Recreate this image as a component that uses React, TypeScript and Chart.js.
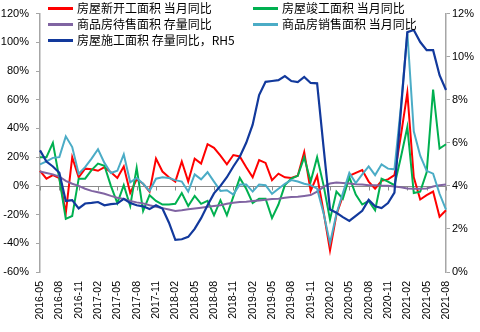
import React, { useEffect, useRef } from "react";
import { Chart, registerables } from "chart.js";

Chart.register(...registerables);

const months: string[] = [
  "2016-05", "2016-06", "2016-07", "2016-08", "2016-09", "2016-10", "2016-11", "2016-12",
  "2017-01", "2017-02", "2017-03", "2017-04", "2017-05", "2017-06", "2017-07", "2017-08", "2017-09", "2017-10", "2017-11", "2017-12",
  "2018-01", "2018-02", "2018-03", "2018-04", "2018-05", "2018-06", "2018-07", "2018-08", "2018-09", "2018-10", "2018-11", "2018-12",
  "2019-01", "2019-02", "2019-03", "2019-04", "2019-05", "2019-06", "2019-07", "2019-08", "2019-09", "2019-10", "2019-11", "2019-12",
  "2020-01", "2020-02", "2020-03", "2020-04", "2020-05", "2020-06", "2020-07", "2020-08", "2020-09", "2020-10", "2020-11", "2020-12",
  "2021-01", "2021-02", "2021-03", "2021-04", "2021-05", "2021-06", "2021-07", "2021-08",
];

// 房屋新开工面积 当月同比 (%)
const newStartsYoY: number[] = [
  10.5, 5, 7.5, 5.5, -19, 20, 6, 12, 11.5, 10.5,
  13, 9.5, 5.5, 13.5, -5, 4.5, 1.5, -4, 19, 10,
  6, 3, 17, 3, 19, 15.5, 29, 26.5, 21, 15,
  21.5, 20.5, 13, 6, 18, 16, 4, 8.5, 6, 5.5,
  7, 23.5, -3.5, 7, -18, -45, -20, -7, 7, 9,
  11, 3, -2, 3.5, 4.5, 7.5, 35, 65, 6, -9.5,
  -6.5, -4, -21.5, -17,
];

// 房屋竣工面积 当月同比 (%)
const completionsYoY: number[] = [
  20, 20, 30, 5, -23, -21, 5, 5, 11, 15.5,
  14, 0, -12, 0.5, -14, 12.5, -17.5, -6.5, -10.5, -13,
  -13, -12.5, -5, -14, -7, -12.5, -10.5, -20.5, -10, -20.5,
  -7.5, 5.5, -2, -12, -9, -9, -22.5, -13, 0.5, 5,
  7, 20, 3, 20, 0.5, -23.5, -4, -9, 6, -6,
  -13, -10.5, -17, 5, 3, 0.5, 20, 41, -5, -4,
  9.5, 67, 26, 29,
];

// 商品房待售面积 存量同比 (%)
const inventoryYoY: number[] = [
  10, 9, 8, 6.5, 3.5, 1.5, 0, -2, -3.5, -4.5,
  -5.5, -7, -8.3, -9.2, -10.5, -11.5, -12.2, -13.5, -14.5, -15.5,
  -16.5, -17.5, -17, -16.3, -15.8, -15.2, -14.5, -14, -13.5, -12.5,
  -11.8, -11.3, -11, -10.6, -10.2, -9.7, -9.2, -8.9, -8.3, -7.8,
  -7.5, -7, -6.4, -4, -0.7, 1.6, 2.3, 2, 1.6, 1.2,
  1, 0.5, 0.5, 0.2, 0, -0.5, -1, -1.8, -2, -2,
  -1.8, -0.5, 0.5, 1,
];

// 商品房销售面积 当月同比 (%)
const salesYoY: number[] = [
  15, 17, 19.5, 20, 34.5, 27, 8.5, 13, 19, 25.5,
  16, 9, 10.5, 22, 2.5, 5.5, 1.5, -3.5, 5, 6,
  5.5, 4, 3, -4, 8, 4.5, 9.5, 3, -3.5, -3,
  -6, 1, 1, -4, 1, 0.5, -5.5, -2, 1.5, 4,
  3, 1.5, 0.5, -2, -19, -40, -19.5, -5, 9, 2,
  8, 13.5, 7.5, 15, 12, 11.5, 55, 107, 38, 21,
  10.5, 8.5, -5.5, -16.5,
];

// 房屋施工面积 存量同比 (%, right axis)
const underConstructionYoY: number[] = [
  5.65, 5.13, 4.9, 4.61, 3.3, 3.34, 2.95, 3.18, 3.21, 3.25,
  3.1, 3.15, 3.18, 3.4, 3.2, 3.1, 3.05, 2.92, 3.1, 2.95,
  2.3, 1.49, 1.52, 1.63, 2.0, 2.5, 3.1, 3.65, 4.0, 4.4,
  4.9, 5.35, 6.0, 6.84, 8.22, 8.83, 8.87, 8.91, 9.1, 8.87,
  8.82, 9.06, 8.78, 8.76, 5.8, 2.9, 2.75, 2.55, 2.37, 2.61,
  2.84, 3.35, 3.05, 2.97, 3.2, 3.69, 7.5, 11.14, 11.24, 10.68,
  10.3, 10.3, 9.14, 8.45,
];

const leftTicks: number[] = [-60, -40, -20, 0, 20, 40, 60, 80, 100, 120];
const rightTicks: number[] = [0, 2, 4, 6, 8, 10, 12];

const seriesNames: string[] = [
  "房屋新开工面积 当月同比",
  "房屋竣工面积 当月同比",
  "商品房待售面积 存量同比",
  "商品房销售面积 当月同比",
  "房屋施工面积 存量同比，RH5",
];

const COLORS = ["#FF0000", "#00B050", "#8064A2", "#4BACC6", "#12399C"];
const AXIS_GRAY = "#A6A6A6";
const TICK_FONT = "'Liberation Sans', Arial, sans-serif";
const LABEL_EVERY = 3;

const zeroLinePlugin = {
  id: "zeroLine",
  beforeDatasetsDraw(chart: any) {
    const { ctx, chartArea, scales } = chart;
    const y = Math.round(scales.y.getPixelForValue(0)) + 0.5;
    ctx.save();
    ctx.strokeStyle = "#8C8C8C";
    ctx.lineWidth = 1;
    ctx.beginPath();
    ctx.moveTo(chartArea.left, y);
    ctx.lineTo(chartArea.right, y);
    for (let i = 0; i < months.length; i += LABEL_EVERY) {
      const x = Math.round(scales.x.getPixelForValue(i)) + 0.5;
      ctx.moveTo(x, y);
      ctx.lineTo(x, y + 4);
    }
    ctx.stroke();
    ctx.restore();
  },
};

export default function App() {
  const canvasRef = useRef<HTMLCanvasElement | null>(null);

  useEffect(() => {
    const canvas = canvasRef.current;
    if (!canvas) return;
    const series = [newStartsYoY, completionsYoY, inventoryYoY, salesYoY];
    const datasets: any[] = series.map((d, i) => ({
      label: seriesNames[i],
      data: d,
      borderColor: COLORS[i],
      backgroundColor: COLORS[i],
      borderWidth: 2,
      pointRadius: 0,
      tension: 0,
      yAxisID: "y",
      order: 5 - i,
    }));
    datasets.push({
      label: seriesNames[4],
      data: underConstructionYoY,
      borderColor: COLORS[4],
      backgroundColor: COLORS[4],
      borderWidth: 2.2,
      pointRadius: 0,
      tension: 0,
      yAxisID: "y1",
      order: 0,
    });

    const chart = new Chart(canvas, {
      type: "line",
      data: { labels: months, datasets },
      plugins: [zeroLinePlugin],
      options: {
        responsive: false,
        animation: false,
        events: [],
        layout: { padding: { top: 11, left: 0, right: 0, bottom: 0 } },
        plugins: { legend: { display: false }, tooltip: { enabled: false } },
        scales: {
          x: {
            type: "category",
            offset: false,
            grid: { display: false, drawTicks: false },
            border: { display: false },
            ticks: {
              autoSkip: false,
              maxRotation: 90,
              minRotation: 90,
              padding: 9,
              color: "#000",
              font: { family: TICK_FONT, size: 10.5 },
              callback: (_v: any, idx: number) => (idx % LABEL_EVERY === 0 ? months[idx] : null),
            },
            afterFit: (s: any) => {
              s.height = 60;
            },
          },
          y: {
            position: "left",
            min: leftTicks[0],
            max: leftTicks[leftTicks.length - 1],
            grid: { drawOnChartArea: false, drawTicks: true, tickLength: 4, color: AXIS_GRAY },
            border: { display: true, color: AXIS_GRAY, width: 1.5 },
            ticks: {
              padding: 7,
              color: "#000",
              font: { family: TICK_FONT, size: 11 },
              callback: (v: any) => `${v}%`,
            },
            afterBuildTicks: (s: any) => {
              s.ticks = leftTicks.map((v) => ({ value: v }));
            },
            afterFit: (s: any) => {
              s.width = 40;
            },
          },
          y1: {
            position: "right",
            min: rightTicks[0],
            max: rightTicks[rightTicks.length - 1],
            grid: { drawOnChartArea: false, drawTicks: true, tickLength: 4, color: AXIS_GRAY },
            border: { display: true, color: AXIS_GRAY, width: 1.5 },
            ticks: {
              padding: 2,
              color: "#000",
              font: { family: TICK_FONT, size: 11 },
              callback: (v: any) => `${v}%`,
            },
            afterBuildTicks: (s: any) => {
              s.ticks = rightTicks.map((v) => ({ value: v }));
            },
            afterFit: (s: any) => {
              s.width = 34;
            },
          },
        },
      } as any,
    });
    return () => chart.destroy();
  }, []);

  const legendPos = [
    { left: 48, top: 0 },
    { left: 253, top: 0 },
    { left: 48, top: 16 },
    { left: 253, top: 16 },
    { left: 48, top: 32 },
  ];

  return (
    <div style={{ position: "fixed", left: 0, top: 0, width: 480, height: 332, background: "#fff" }}>
      <canvas ref={canvasRef} width={480} height={332} style={{ display: "block", width: 480, height: 332 }} />
      {seriesNames.map((name, i) => (
        <div
          key={name}
          style={{
            position: "absolute",
            left: legendPos[i].left,
            top: legendPos[i].top,
            height: 16,
            display: "flex",
            alignItems: "center",
            whiteSpace: "pre",
            fontFamily: "'Noto Sans CJK SC', sans-serif",
            fontSize: 12,
            color: "#000",
            lineHeight: "16px",
          }}
        >
          <span style={{ display: "inline-block", width: 25, height: 3, background: COLORS[i], marginRight: 4 }} />
          <span>{name}</span>
        </div>
      ))}
    </div>
  );
}
